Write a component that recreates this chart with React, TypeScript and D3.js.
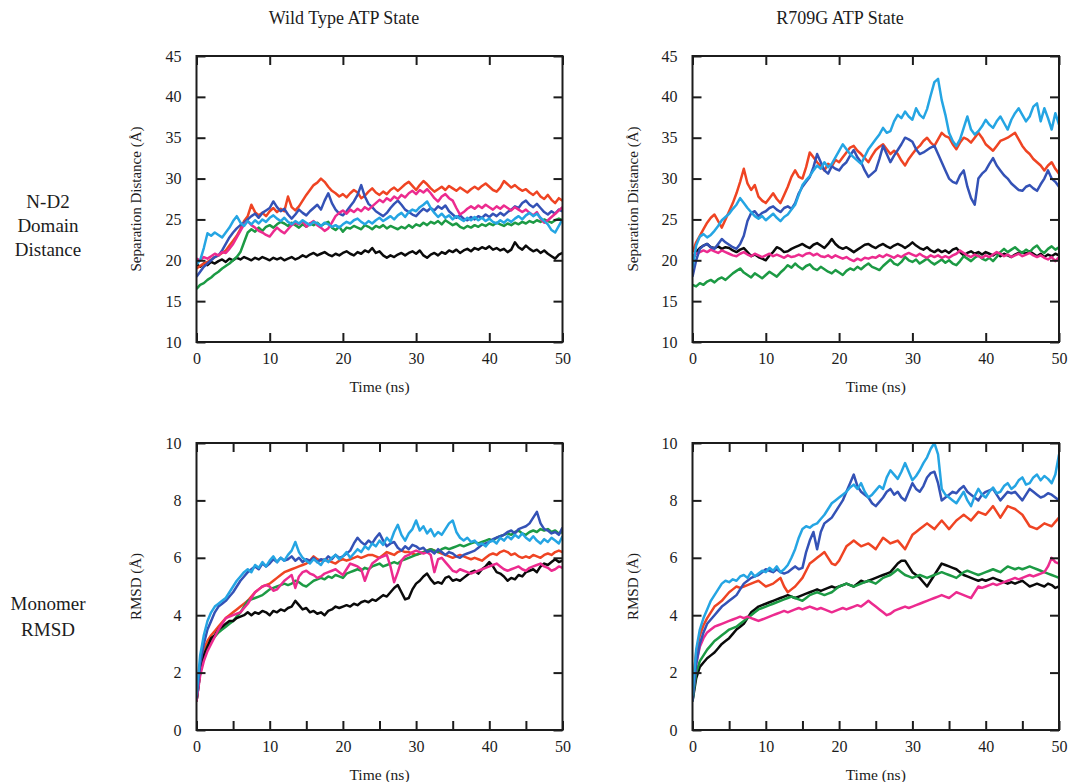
import React, { useEffect, useRef } from "react";
import * as d3 from "d3";

// sampling grid, every 0.5 ns from 0 to 50
const times = d3.range(0, 101).map((i) => i * 0.5);

// --- Wild type, N-D2 domain distance (Å)
const wtDistBlack = [
  19.5, 19.2, 19.6, 19.4, 19.8, 19.6, 19.9, 20.1, 19.8, 20.2,
  20.0, 20.3, 20.1, 20.4, 20.2, 20.0, 20.3, 20.1, 20.4, 20.2,
  20.0, 20.3, 20.1, 20.3, 20.0, 20.2, 20.4, 20.1, 20.3, 20.6,
  20.4, 20.7, 20.9, 20.6, 20.8, 21.0, 20.7, 20.5, 20.8, 20.6,
  20.9, 21.1, 20.8, 20.6, 21.0, 20.8, 21.2, 21.0, 21.5, 20.9,
  21.1, 20.6, 20.3, 20.6, 20.4, 20.7, 20.9, 20.6, 20.9, 21.1,
  20.8, 21.2, 20.6, 20.3, 20.7, 20.9, 20.6, 21.0, 20.8, 21.2,
  21.0, 21.3, 20.9, 21.2, 21.4, 21.1, 21.5, 21.3, 21.6, 21.4,
  21.7, 21.3, 21.5, 21.2, 21.4, 21.0, 21.3, 22.2, 21.6, 21.3,
  21.8, 21.4, 21.1, 21.3, 20.9, 21.2, 20.8, 20.5, 20.2, 20.7,
  20.9,
];
const wtDistRed = [
  19.0, 19.3, 19.6, 19.8, 20.1, 20.4, 20.6, 20.9, 21.2, 21.8,
  22.4, 23.0, 23.8, 24.8, 25.4, 26.8, 25.9, 25.5, 25.8, 25.4,
  26.0, 26.4, 25.9, 26.3, 26.0, 27.8, 26.5, 26.1, 26.6, 27.3,
  28.0, 28.6, 29.2, 29.5, 30.0, 29.6, 29.0, 28.5, 28.2, 27.8,
  28.1, 27.7, 28.2, 28.6, 28.3, 27.6, 27.9, 28.4, 28.8, 28.3,
  28.0, 28.4, 28.1, 28.6, 28.9, 28.5, 28.9, 29.3, 29.6, 29.1,
  28.6, 29.2, 29.7, 29.3, 28.8, 28.4, 28.7, 29.0, 28.6, 29.1,
  28.8, 28.5, 28.9, 28.6, 28.3, 28.7, 29.0, 28.7, 29.1, 29.4,
  29.0, 28.6, 28.4, 28.9, 29.7, 29.3, 28.9, 29.2, 28.8, 28.5,
  28.7, 28.3, 28.0, 28.4, 27.8, 27.5, 28.0, 27.4, 27.0, 27.6,
  27.3,
];
const wtDistGreen = [
  16.5, 17.0, 17.2, 17.6, 17.9, 18.3, 18.6, 19.0, 19.3, 19.6,
  20.0, 20.4, 21.0, 22.2, 23.4, 23.8, 23.5, 24.0, 23.6, 24.1,
  24.3, 24.0, 24.4, 24.7, 24.5, 24.2, 24.6, 24.3, 24.0, 24.4,
  24.1, 24.5, 24.3, 24.6, 24.2, 24.5, 24.7, 24.0, 23.7, 24.1,
  23.5, 24.0, 23.9, 24.2, 24.0, 23.8, 24.3, 24.1, 23.8, 24.2,
  24.0, 24.3, 23.9, 24.2, 24.0, 23.8, 24.1, 23.9, 24.3, 24.0,
  24.4, 24.2, 24.6, 24.3, 24.7, 24.5, 24.8, 24.4, 24.9, 24.6,
  24.3, 24.5, 24.1, 23.9, 24.2, 24.0, 24.3, 24.1, 24.4, 24.2,
  24.5, 24.3, 24.6, 24.4, 24.2, 24.5, 24.3, 24.6, 24.4, 24.7,
  24.5, 24.8, 24.6, 24.9, 24.7, 25.0, 24.8, 24.6, 24.9, 25.1,
  24.9,
];
const wtDistDarkBlue = [
  18.0, 18.6, 19.2, 19.6, 20.0, 20.4, 20.6, 21.2, 22.0, 22.8,
  23.4, 23.9, 24.3, 24.6, 25.0, 25.4, 25.7, 25.2, 25.8, 26.1,
  26.4, 27.2, 26.5, 26.0, 26.3, 25.6, 25.1, 25.6, 26.2, 25.8,
  25.5, 26.0, 26.4, 26.8, 26.2, 27.3, 28.2, 27.0, 26.2, 25.7,
  25.5, 26.0, 26.6, 27.2, 28.0, 29.2, 27.8, 26.9, 26.5, 26.0,
  25.7, 25.4, 25.8, 26.4, 26.9, 27.3, 26.8, 26.2, 25.9, 25.6,
  25.4, 25.9, 26.3, 26.0, 26.4, 26.1, 26.6, 26.3, 26.7, 26.0,
  25.6, 25.2, 25.5, 25.1, 24.9, 25.3, 25.0, 25.4, 25.2, 25.6,
  25.3, 25.7, 25.4, 25.8, 25.5, 25.9, 26.2, 26.6, 26.4, 27.0,
  27.3, 26.8, 26.5, 26.9, 26.4, 25.9, 25.6, 26.0, 25.7, 26.2,
  26.0,
];
const wtDistMagenta = [
  20.2, 20.0, 20.4, 20.2, 20.5, 20.8, 20.6, 21.0, 20.9, 21.4,
  22.0, 22.8, 23.6, 24.4, 24.8, 24.3, 24.0, 23.6, 23.4, 23.1,
  22.9, 23.5, 24.0, 23.6, 23.3, 23.8, 24.3, 24.6, 24.4, 24.8,
  24.1, 24.5, 24.8, 24.3, 24.0, 23.6, 23.9, 24.6, 25.4, 25.8,
  26.1, 25.7, 26.2, 25.9, 26.3, 26.0, 26.5, 26.2, 26.6, 27.0,
  27.4, 27.1, 27.6, 27.3, 27.8, 27.5, 28.0, 27.7, 28.2, 28.5,
  28.1, 28.6, 28.3, 28.7, 28.2, 27.6, 27.2, 27.8, 28.1, 27.6,
  27.3, 26.4, 25.6, 25.9, 26.3, 26.6, 26.3, 26.7, 26.4, 26.8,
  26.5, 26.2, 26.6, 26.3, 26.7, 26.4, 26.1, 26.5, 26.2, 25.9,
  26.2, 25.8, 25.5, 25.9, 25.1, 24.6, 24.9, 25.3, 25.7, 26.1,
  26.5,
];
const wtDistLightBlue = [
  19.5, 20.0, 21.5, 23.3, 23.0, 23.4, 23.1, 22.8, 23.4, 24.0,
  24.8, 25.4, 24.6, 24.2, 24.8, 24.4, 24.9, 24.5, 25.0, 24.7,
  25.2, 25.5, 25.1, 24.8, 25.2, 24.7, 24.4, 24.8, 24.5, 24.9,
  24.6, 24.3, 24.7, 24.5, 24.2, 24.6, 24.4, 24.1, 24.3, 24.0,
  24.4, 24.7, 24.5, 24.9, 25.1, 24.7, 24.4, 24.8, 24.5, 24.9,
  25.2, 24.8, 25.1, 25.4, 25.0, 25.5, 25.8, 25.3, 25.9, 26.2,
  26.0, 26.5, 26.8, 27.2, 26.4, 25.8, 25.3, 25.7, 25.2, 25.5,
  25.0, 25.4, 25.1, 24.8, 25.2, 24.9, 25.3, 24.9, 25.2, 24.8,
  25.1, 24.7, 24.5, 24.9, 24.6, 25.0, 24.7, 25.1, 25.4, 25.0,
  25.5, 25.8, 25.4, 25.7, 25.2, 24.8, 24.4, 23.7, 23.4, 24.2,
  25.0,
];

// --- R709G, N-D2 domain distance (Å)
const r7DistBlack = [
  20.0, 21.0, 21.5, 21.8, 22.0, 21.6, 21.5, 21.7, 21.4, 21.6,
  21.5, 21.2, 21.0, 21.3, 21.5, 21.0, 20.5, 20.7, 20.4, 20.2,
  20.0, 20.6, 21.0, 21.6, 21.4, 21.0, 21.1, 21.4, 21.6, 21.8,
  22.0, 21.7, 21.5, 21.9, 22.1, 21.8, 21.5, 22.0, 22.6, 22.0,
  21.6, 21.4, 21.6, 21.3, 21.0, 21.3, 21.6, 21.9, 22.0, 21.7,
  21.5, 21.8, 22.0, 21.7, 21.5, 21.8, 22.0, 21.8, 21.5, 21.8,
  22.2, 21.8, 21.5, 21.3, 21.6, 21.2, 21.0, 21.3, 21.0, 21.2,
  20.9, 21.3, 21.5, 21.0, 20.6, 20.9, 21.1, 20.8, 21.0, 20.7,
  21.0, 20.8, 20.6, 20.9, 20.5, 20.8, 20.6, 20.4, 20.7, 20.9,
  21.0, 20.8, 21.1, 20.8, 20.5, 20.8, 20.4, 20.7, 20.5, 20.8,
  20.6,
];
const r7DistRed = [
  21.0, 22.2, 23.0, 23.8, 24.6, 25.2, 25.6, 24.8, 24.0, 25.0,
  26.0, 27.0, 28.2, 29.6, 31.2, 29.4, 28.6, 29.2, 27.8, 27.3,
  27.0, 27.6, 28.2, 27.5, 27.0, 28.0, 29.0, 30.2, 31.0, 30.2,
  30.0, 31.4, 33.2, 32.6, 32.0, 31.5, 31.0, 31.8, 31.5, 32.3,
  32.0, 32.6, 33.2, 33.8, 34.0, 33.4, 33.0, 32.5, 32.0, 32.8,
  33.5, 33.9, 34.2, 33.6, 33.0, 33.4, 33.0, 32.2, 31.6, 32.4,
  33.0, 33.6, 34.0, 34.6, 35.0, 34.4, 34.0, 34.8, 35.6, 35.2,
  35.0, 34.2, 33.6, 34.4, 35.0, 34.8, 34.4, 35.0, 35.6, 35.0,
  34.2, 33.8, 33.4, 34.0, 34.6, 34.8, 35.0, 35.3, 35.6, 34.8,
  34.0, 33.4, 33.0, 32.4, 32.0, 31.6, 31.0, 31.6, 32.0, 31.2,
  30.6,
];
const r7DistGreen = [
  17.0, 16.8, 17.2, 17.0, 17.4, 17.6, 17.3, 17.7, 17.9, 17.6,
  18.0, 18.4, 18.7, 19.0, 18.5, 18.2, 17.9, 18.4, 18.1, 17.8,
  18.2, 18.6, 18.3, 18.0, 18.5, 18.9, 19.4, 19.1, 19.6, 19.2,
  18.9, 19.3, 19.5, 19.0, 18.8, 19.2, 18.9, 18.6, 18.4, 18.8,
  18.5, 18.2, 18.7, 19.0, 18.8, 19.2, 18.9, 19.3, 19.6, 19.2,
  19.0, 18.8, 19.3, 19.7, 20.1, 19.6, 19.4, 19.8, 20.4, 20.0,
  19.8, 20.1, 19.6, 19.9, 20.2, 19.8, 19.5, 19.8, 20.1, 19.7,
  20.0, 19.6, 19.4, 19.9, 20.5, 20.2, 19.9, 20.3, 20.6, 20.2,
  20.0, 20.3, 19.9, 20.4, 21.0, 21.4, 21.0, 21.3, 21.6, 21.2,
  20.9, 21.3, 21.0, 21.5, 21.8, 21.2, 20.9, 21.4, 21.7, 21.3,
  21.6,
];
const r7DistDarkBlue = [
  18.0, 20.0, 21.4, 21.8, 22.0, 21.6, 21.4, 22.0, 22.6, 22.2,
  21.9, 21.6, 21.4, 22.0, 23.0, 24.8, 25.8, 26.0, 25.4, 25.8,
  26.0, 26.4, 26.6, 26.2, 25.9, 26.4, 26.6, 26.3, 27.0, 28.2,
  29.0, 29.6, 30.2, 31.4, 33.0, 32.0, 31.0, 30.6, 31.5, 31.2,
  31.0, 31.6, 32.0, 32.8, 33.5, 32.6, 32.0, 31.0, 30.2, 30.6,
  31.0, 32.4, 34.0, 33.0, 32.0, 32.8, 33.5, 34.2, 35.0, 34.8,
  34.5, 33.6, 33.0, 33.2, 33.5, 33.8, 34.0, 33.0, 32.0, 31.0,
  30.0, 29.6, 29.4, 30.4, 31.0, 29.0, 27.6, 26.8, 30.0, 30.6,
  31.0, 31.8, 32.5, 31.6, 31.0, 30.4, 30.0, 29.4, 29.0, 28.6,
  28.5, 29.0, 29.2, 28.8, 28.5, 29.3, 30.0, 31.0, 30.0, 29.6,
  29.0,
];
const r7DistMagenta = [
  20.5, 20.8, 21.0, 21.2, 21.0, 21.3, 21.1, 20.9, 21.2, 21.0,
  20.8, 20.6, 20.5, 20.8, 21.0, 20.7, 20.5, 20.8, 20.6, 20.4,
  20.6, 20.8, 20.5, 20.7, 20.5, 20.3, 20.6, 20.4, 20.5, 20.7,
  20.5, 20.8, 20.9, 20.6, 20.8, 20.5, 20.4, 20.6, 20.3, 20.6,
  20.4, 20.2, 20.4, 20.1, 19.9, 20.2, 20.0, 20.3, 20.2, 20.4,
  20.3, 20.6, 20.4, 20.7, 20.5, 20.3, 20.6, 20.4, 20.7, 20.9,
  20.7, 20.5, 20.8, 20.5, 20.3, 20.6, 20.4, 20.6, 20.3, 20.5,
  20.3, 20.6, 20.8, 21.2, 20.9, 20.6, 20.4, 20.7, 20.5, 20.3,
  20.6, 20.4, 20.7, 21.0, 20.8, 20.5, 20.7, 20.4, 20.6, 20.8,
  20.5, 20.7, 20.9, 20.6, 20.4, 20.6, 20.3, 20.1, 20.4, 19.9,
  20.4,
];
const r7DistLightBlue = [
  19.0, 21.8, 22.9, 23.2, 22.8, 23.1, 23.6, 24.2, 24.9, 25.3,
  25.7, 26.3, 26.8, 27.6, 27.0, 26.4, 25.9, 25.4, 25.1, 25.4,
  24.9, 25.3, 25.7, 25.2, 24.8, 25.3, 25.6, 26.2, 26.8, 28.0,
  29.2, 29.8, 30.3, 31.0, 31.6, 31.2, 32.0, 31.4, 31.8, 32.6,
  33.4, 34.2, 33.6, 33.0, 32.6, 32.2, 31.8, 32.7, 33.6, 34.2,
  34.8, 35.4, 36.2, 35.6, 35.8, 37.0, 37.8, 37.4, 38.2, 37.6,
  37.2, 38.6, 37.8, 37.4, 38.5, 40.2, 41.8, 42.2, 39.6, 37.8,
  35.6, 34.6, 34.0, 34.8, 36.2, 37.6, 36.0, 35.4, 35.8, 36.4,
  37.2, 36.6, 36.2, 37.0, 37.6, 36.8, 36.0, 37.2, 38.0, 38.6,
  37.8, 37.0, 37.6, 38.8, 39.2, 37.0, 38.6, 37.4, 36.0, 38.0,
  36.6,
];

// --- Wild type, monomer RMSD (Å)
const wtRmsdBlack = [
  1.0, 2.0, 2.6, 2.9, 3.2, 3.3, 3.5, 3.6, 3.7, 3.8,
  3.8, 3.9, 3.95, 4.0, 4.1, 4.0, 4.1, 4.05, 4.15, 4.1,
  4.0, 4.15, 4.1, 4.2, 4.15, 4.25, 4.3, 4.5, 4.35, 4.2,
  4.25, 4.1, 4.15, 4.05, 4.1, 4.0, 4.15, 4.2, 4.3, 4.25,
  4.3, 4.35, 4.3, 4.4, 4.35, 4.45, 4.5, 4.45, 4.55, 4.5,
  4.6, 4.7, 4.65, 4.8, 4.95, 5.05, 4.8, 4.55, 4.6, 4.9,
  5.1, 5.2, 5.35, 5.45, 5.25, 5.1, 5.15, 5.1, 5.3, 5.35,
  5.2, 5.25, 5.2, 5.3, 5.4, 5.5, 5.55, 5.45, 5.6, 5.7,
  5.85, 5.7, 5.5, 5.45, 5.35, 5.2, 5.3, 5.25, 5.4, 5.35,
  5.5, 5.55, 5.6, 5.5, 5.7, 5.8, 5.75, 5.85, 5.95, 5.85,
  5.9,
];
const wtRmsdRed = [
  1.0, 2.2, 2.8, 3.1, 3.3, 3.45, 3.6, 3.75, 3.9, 4.0,
  4.1, 4.2, 4.3, 4.4, 4.5, 4.65, 4.8, 4.9, 5.0, 5.05,
  5.1, 5.2, 5.3, 5.4, 5.5, 5.55, 5.6, 5.65, 5.7, 5.75,
  5.8, 5.9, 6.05, 5.95, 5.9, 5.95, 5.9, 5.85, 5.8, 5.9,
  5.95, 5.9, 5.95, 6.0, 6.05, 6.0, 6.05, 6.1, 6.1, 6.05,
  6.0, 6.1, 6.2, 6.15, 6.1, 6.2, 6.25, 6.2, 6.2, 6.15,
  6.1, 6.15, 6.2, 6.25, 6.3, 6.25, 6.2, 6.15, 6.1, 6.05,
  6.0, 6.05, 6.1, 6.05, 6.0, 5.95, 6.0, 5.95, 5.9, 6.0,
  6.1, 6.15, 6.1, 6.2, 6.25, 6.2, 6.1, 6.15, 6.05, 6.0,
  6.05, 6.0, 6.1, 6.05, 6.0, 6.1, 6.15, 6.1, 6.2, 6.25,
  6.2,
];
const wtRmsdGreen = [
  1.0, 2.0, 2.6, 2.9, 3.1, 3.25, 3.4, 3.5, 3.6, 3.7,
  3.8, 3.95, 4.1, 4.3, 4.5, 4.55, 4.6, 4.65, 4.7, 4.8,
  4.9, 4.95, 5.0, 5.05, 5.1, 5.05, 5.1, 5.2, 5.15, 5.05,
  5.0, 5.1, 5.2, 5.25, 5.3, 5.25, 5.35, 5.3, 5.4, 5.35,
  5.3, 5.45, 5.5, 5.55, 5.6, 5.55, 5.65, 5.6, 5.7, 5.75,
  5.8, 5.7, 5.75, 5.8, 5.85, 5.8, 5.9, 5.95, 6.0, 6.05,
  6.1, 6.15, 6.2, 6.25, 6.3, 6.25, 6.2, 6.3, 6.35, 6.3,
  6.35, 6.4, 6.45, 6.4, 6.45, 6.5, 6.55, 6.5, 6.55, 6.6,
  6.65, 6.6, 6.7, 6.75, 6.8, 6.85, 6.8, 6.9, 6.95, 6.85,
  6.8, 6.9, 6.95, 6.9, 7.0, 6.95, 7.0, 6.9, 6.95, 6.85,
  6.9,
];
const wtRmsdDarkBlue = [
  1.1, 2.3, 3.0, 3.5, 3.8, 4.1, 4.3, 4.4, 4.5, 4.65,
  4.8, 5.0, 5.2, 5.35, 5.5, 5.6, 5.7, 5.6, 5.8, 5.7,
  5.8, 5.95, 5.85, 6.0, 5.9, 5.95, 6.05, 5.9, 6.0, 5.85,
  5.95, 5.9, 6.0, 5.85, 5.95, 5.9, 6.05, 5.95, 6.1, 6.0,
  6.05, 6.15, 6.25, 6.5, 6.7, 6.55, 6.45, 6.6, 6.5, 6.7,
  6.85, 6.6, 6.4, 6.5, 6.55, 6.35, 6.25, 6.4, 6.3, 6.45,
  6.4, 6.3, 6.35, 6.2, 6.25, 6.15, 6.3, 6.2, 6.1, 6.2,
  6.15, 6.05, 6.0, 6.1, 6.15, 6.2, 6.25, 6.35, 6.45, 6.5,
  6.55, 6.65, 6.7, 6.75, 6.8, 6.9, 6.95, 6.85, 7.0, 7.05,
  7.1, 7.2, 7.4, 7.6, 7.2, 7.0, 6.95, 6.85, 6.9, 6.8,
  7.05,
];
const wtRmsdMagenta = [
  1.0, 1.9, 2.4, 2.75, 3.0, 3.25, 3.5, 3.7, 3.9, 3.95,
  4.0, 4.05, 4.1, 4.25, 4.4, 4.6, 4.8, 4.9, 5.0, 5.05,
  5.0, 4.85, 4.9, 5.05, 5.2, 5.3, 5.4, 4.95, 5.35, 5.5,
  5.55, 5.45, 5.4, 5.3, 5.35, 5.45, 5.5, 5.55, 5.6, 5.5,
  5.4, 5.6, 5.8, 5.75, 5.7, 5.6, 5.2, 5.55, 5.8, 5.9,
  6.0, 6.05, 6.1, 5.7, 5.15, 5.5, 5.9, 6.05, 6.1, 6.2,
  6.25, 6.2, 6.15, 6.2, 6.1, 5.5, 5.95, 6.0, 5.85, 5.7,
  5.55, 5.5, 5.6, 5.55, 5.5, 5.45, 5.5, 5.55, 5.6, 5.65,
  5.7, 5.75, 5.8, 5.7, 5.6, 5.55, 5.6, 5.65, 5.7, 5.6,
  5.55, 5.65, 5.7, 5.75, 5.8, 5.7, 5.65, 5.55, 5.6, 5.7,
  5.65,
];
const wtRmsdLightBlue = [
  1.2, 2.6, 3.3, 3.8, 4.1, 4.3, 4.4, 4.5, 4.6, 4.8,
  5.0, 5.2, 5.35, 5.5, 5.6, 5.5, 5.75, 5.65, 5.85, 5.7,
  5.9, 6.05, 5.85, 6.0, 5.9, 6.1, 6.25, 6.55, 6.2, 6.0,
  5.9, 5.8, 5.95, 5.85, 5.75, 5.95, 5.85, 6.0, 6.1, 5.95,
  6.05, 6.2, 6.0, 6.15, 6.3, 6.2, 6.4, 6.3, 6.5, 6.4,
  6.6, 6.45, 6.7, 6.55, 6.9, 7.15, 6.8, 6.6, 6.85, 7.0,
  7.3, 6.95, 7.1, 6.85, 7.0, 6.75, 6.9, 6.8, 7.0, 7.2,
  7.3, 6.9, 6.7, 6.6, 6.7, 6.55, 6.6, 6.45, 6.5, 6.4,
  6.55, 6.6, 6.5, 6.7, 6.6, 6.75, 6.65, 6.8, 6.7, 6.85,
  6.7, 6.6, 6.75, 6.6, 6.5, 6.65, 6.55, 6.7, 6.6, 6.5,
  6.75,
];

// --- R709G, monomer RMSD (Å)
const r7RmsdBlack = [
  1.0, 1.8, 2.2, 2.35, 2.5, 2.6, 2.7, 2.85, 3.0, 3.1,
  3.2, 3.35, 3.5, 3.6, 3.7, 3.9, 4.1, 4.2, 4.3, 4.35,
  4.4, 4.45, 4.5, 4.55, 4.6, 4.65, 4.7, 4.65, 4.6, 4.65,
  4.7, 4.75, 4.8, 4.85, 4.9, 4.85, 4.9, 4.95, 5.0, 4.95,
  5.0, 5.05, 5.1, 5.05, 5.0, 5.1, 5.2, 5.15, 5.2, 5.25,
  5.3, 5.35, 5.4, 5.45, 5.5, 5.65, 5.8, 5.9, 5.9, 5.7,
  5.5, 5.4, 5.3, 5.15, 5.0, 5.2, 5.4, 5.6, 5.8, 5.75,
  5.7, 5.65, 5.6, 5.5, 5.4, 5.35, 5.3, 5.25, 5.2, 5.25,
  5.2, 5.25, 5.3, 5.25, 5.2, 5.15, 5.1, 5.15, 5.1, 5.15,
  5.2, 5.1, 5.0, 5.05, 5.1, 5.05, 5.0, 5.1, 5.05, 4.95,
  5.0,
];
const r7RmsdRed = [
  1.5, 2.7, 3.3, 3.65, 3.9, 4.1, 4.3, 4.4, 4.5, 4.65,
  4.8, 4.9, 5.0, 4.95, 5.0, 5.05, 5.1, 5.15, 5.2, 5.1,
  5.0, 5.05, 5.1, 5.2, 5.3, 5.0, 4.8, 4.9, 5.0, 5.15,
  5.3, 5.55, 5.8, 5.9, 6.0, 6.1, 6.2, 6.0, 5.8, 5.75,
  5.9, 6.15, 6.4, 6.5, 6.6, 6.5, 6.4, 6.45, 6.5, 6.4,
  6.3, 6.5, 6.7, 6.6, 6.5, 6.55, 6.6, 6.45, 6.3, 6.55,
  6.8, 6.9, 7.0, 7.1, 7.2, 7.1, 7.0, 7.15, 7.3, 7.15,
  7.0, 7.15, 7.3, 7.4, 7.5, 7.4, 7.3, 7.45, 7.6, 7.55,
  7.5, 7.65, 7.8, 7.6, 7.4, 7.6, 7.8, 7.75, 7.7, 7.6,
  7.5, 7.3, 7.1, 7.05, 7.0, 7.1, 7.2, 7.15, 7.1, 7.25,
  7.4,
];
const r7RmsdGreen = [
  1.0, 2.0, 2.4, 2.6, 2.8, 2.95, 3.1, 3.2, 3.3, 3.4,
  3.5, 3.55, 3.6, 3.7, 3.8, 3.9, 4.0, 4.1, 4.2, 4.25,
  4.3, 4.35, 4.4, 4.45, 4.5, 4.55, 4.6, 4.65, 4.6, 4.55,
  4.5, 4.6, 4.7, 4.75, 4.8, 4.75, 4.7, 4.75, 4.8, 4.9,
  5.0, 5.05, 5.1, 5.05, 5.0, 5.05, 5.1, 5.15, 5.2, 5.15,
  5.1, 5.2, 5.3, 5.35, 5.4, 5.5, 5.6, 5.5, 5.4, 5.35,
  5.3, 5.35, 5.4, 5.35, 5.3, 5.35, 5.4, 5.45, 5.5, 5.45,
  5.4, 5.35, 5.3, 5.4, 5.5, 5.55, 5.5, 5.45, 5.4, 5.45,
  5.5, 5.55, 5.6, 5.55, 5.5, 5.6, 5.7, 5.65, 5.6, 5.65,
  5.6, 5.65, 5.7, 5.65, 5.6, 5.55, 5.5, 5.45, 5.4, 5.35,
  5.3,
];
const r7RmsdDarkBlue = [
  1.0, 2.3, 3.0, 3.4, 3.7, 3.85, 4.0, 4.15, 4.3, 4.4,
  4.5, 4.6, 4.7, 4.9, 5.1, 5.2, 5.3, 5.35, 5.4, 5.5,
  5.6, 5.55, 5.5, 5.6, 5.5, 5.45, 5.5, 5.6, 5.7, 5.6,
  5.65, 6.2, 6.6, 6.9, 6.3, 6.9, 7.2, 7.3, 7.4, 7.6,
  7.8, 8.0, 8.3, 8.6, 8.9, 8.5, 8.3, 8.2, 8.1, 7.9,
  7.8, 7.95, 8.1, 8.3, 8.4, 8.2, 8.3, 8.1, 8.0, 8.3,
  8.6, 8.4, 8.3, 8.5, 8.8, 8.95, 9.0, 8.6, 8.0, 8.1,
  8.2, 8.3, 8.25, 8.4, 8.5, 8.3, 8.2, 8.1, 8.0, 8.2,
  8.3, 8.35, 8.4, 8.2, 8.0, 8.15, 8.3, 8.25, 8.3, 8.15,
  8.0, 8.2, 8.4, 8.3, 8.2, 8.1, 8.15, 8.25, 8.2, 8.1,
  8.0,
];
const r7RmsdMagenta = [
  1.2, 2.3, 2.9, 3.2, 3.4, 3.5, 3.6, 3.65, 3.7, 3.75,
  3.8, 3.85, 3.9, 3.95, 3.9, 3.95, 3.9, 3.85, 3.8, 3.85,
  3.9, 3.95, 4.0, 4.05, 4.1, 4.15, 4.1, 4.15, 4.2, 4.25,
  4.2, 4.25, 4.3, 4.25, 4.2, 4.25, 4.2, 4.15, 4.1, 4.15,
  4.2, 4.25, 4.2, 4.25, 4.3, 4.35, 4.3, 4.4, 4.5, 4.4,
  4.3, 4.2, 4.1, 4.0, 4.05, 4.15, 4.2, 4.25, 4.3, 4.25,
  4.3, 4.35, 4.4, 4.45, 4.5, 4.55, 4.6, 4.65, 4.7, 4.65,
  4.6, 4.7, 4.8, 4.75, 4.7, 4.65, 4.6, 4.8, 5.0, 4.95,
  5.0, 5.05, 5.1, 5.05, 5.1, 5.15, 5.2, 5.25, 5.3, 5.25,
  5.3, 5.35, 5.4, 5.35, 5.4, 5.45, 5.5, 5.7, 6.0, 5.85,
  5.8,
];
const r7RmsdLightBlue = [
  1.2, 2.8, 3.5, 3.9, 4.2, 4.5, 4.7, 4.9, 5.1, 5.2,
  5.15, 5.25, 5.2, 5.35, 5.4, 5.3, 5.5, 5.35, 5.45, 5.55,
  5.5, 5.65, 5.55, 5.7, 5.5, 5.6, 5.75, 6.0, 6.3, 6.7,
  7.0, 7.1, 7.05, 7.15, 7.2, 7.35, 7.5, 7.7, 7.9, 8.0,
  8.1, 8.2, 8.3, 8.45, 8.55, 8.4, 8.6, 8.3, 8.1, 8.2,
  8.35, 8.5, 8.4, 8.8, 9.05, 8.9, 8.75, 9.0, 9.3, 9.0,
  8.7, 8.85, 9.05, 9.3, 9.5, 9.8, 10.0, 9.6, 8.4, 8.2,
  8.1, 8.0, 7.9, 8.1, 8.3, 8.0, 7.8, 8.15, 8.4, 8.2,
  8.1, 8.3, 8.45, 8.25, 8.3, 8.5, 8.6, 8.4, 8.5, 8.7,
  8.8, 8.55, 8.6, 8.8, 8.9, 8.7, 8.85, 8.75, 8.6, 8.9,
  9.6,
];

const timeTicks = [0, 10, 20, 30, 40, 50];
const timeTicksFine = [0, 5, 10, 15, 20, 25, 30, 35, 40, 45, 50];
const distTicks = [10, 15, 20, 25, 30, 35, 40, 45];
const rmsdTicks = [0, 2, 4, 6, 8, 10];

const colors = {
  black: "#0a0a0a",
  red: "#ef4423",
  green: "#1c9a44",
  darkBlue: "#3452b6",
  magenta: "#ec2b8f",
  lightBlue: "#25a5e3",
};

const font = "'Liberation Serif', 'Times New Roman', serif";
const ink = "#1c1c1c";

const panels = [
  {
    left: 196.5, right: 562.5, top: 56, bottom: 342,
    yDomain: [10, 45], yTicks: distTicks, xTicks: timeTicks,
    yTitle: "Separation Distance (Å)", yTitleX: 141,
    lines: [
      [wtDistBlack, colors.black], [wtDistRed, colors.red], [wtDistGreen, colors.green],
      [wtDistDarkBlue, colors.darkBlue], [wtDistMagenta, colors.magenta], [wtDistLightBlue, colors.lightBlue],
    ],
  },
  {
    left: 692.5, right: 1059, top: 56, bottom: 342,
    yDomain: [10, 45], yTicks: distTicks, xTicks: timeTicks,
    yTitle: "Separation Distance (Å)", yTitleX: 638,
    lines: [
      [r7DistBlack, colors.black], [r7DistGreen, colors.green], [r7DistMagenta, colors.magenta],
      [r7DistRed, colors.red], [r7DistDarkBlue, colors.darkBlue], [r7DistLightBlue, colors.lightBlue],
    ],
  },
  {
    left: 196.5, right: 562.5, top: 443, bottom: 730,
    yDomain: [0, 10], yTicks: rmsdTicks, xTicks: timeTicksFine,
    yTitle: "RMSD (Å)", yTitleX: 141,
    lines: [
      [wtRmsdRed, colors.red], [wtRmsdGreen, colors.green], [wtRmsdBlack, colors.black],
      [wtRmsdMagenta, colors.magenta], [wtRmsdDarkBlue, colors.darkBlue], [wtRmsdLightBlue, colors.lightBlue],
    ],
  },
  {
    left: 692.5, right: 1059, top: 443, bottom: 730,
    yDomain: [0, 10], yTicks: rmsdTicks, xTicks: timeTicksFine,
    yTitle: "RMSD (Å)", yTitleX: 638,
    lines: [
      [r7RmsdRed, colors.red], [r7RmsdBlack, colors.black], [r7RmsdGreen, colors.green],
      [r7RmsdMagenta, colors.magenta], [r7RmsdDarkBlue, colors.darkBlue], [r7RmsdLightBlue, colors.lightBlue],
    ],
  },
];

export default function App() {
  const ref = useRef<SVGSVGElement>(null);

  useEffect(() => {
    const svg = d3.select(ref.current);
    svg.selectAll("*").remove();

    panels.forEach((p, pi) => {
      const x = d3.scaleLinear().domain([0, 50]).range([p.left, p.right]);
      const y = d3.scaleLinear().domain(p.yDomain).range([p.bottom, p.top]);
      const g = svg.append("g");

      const clipId = "clip" + pi;
      g.append("clipPath").attr("id", clipId)
        .append("rect")
        .attr("x", p.left).attr("y", p.top)
        .attr("width", p.right - p.left).attr("height", p.bottom - p.top);

      const line = d3.line<number>()
        .x((d, i) => x(times[i]))
        .y((d) => y(d));

      g.append("g").attr("clip-path", `url(#${clipId})`)
        .selectAll("path")
        .data(p.lines)
        .join("path")
        .attr("d", (d: any) => line(d[0]))
        .attr("fill", "none")
        .attr("stroke", (d: any) => d[1])
        .attr("stroke-width", 2.5)
        .attr("stroke-linejoin", "round");

      const styleAxis = (sel: any) => {
        sel.select(".domain").remove();
        sel.attr("font-family", font).attr("font-size", 16);
        sel.selectAll(".tick line").attr("stroke", ink).attr("stroke-width", 2);
        sel.selectAll(".tick text").attr("fill", ink);
      };

      // labels only on the multiples of ten
      const xLabel = (d: any) => (d % 10 === 0 ? String(d) : "");

      g.append("g").attr("transform", `translate(0,${p.bottom})`)
        .call(d3.axisBottom(x).tickValues(p.xTicks).tickSize(-9).tickPadding(11).tickFormat(xLabel))
        .call(styleAxis);
      g.append("g").attr("transform", `translate(0,${p.top})`)
        .call(d3.axisTop(x).tickValues(p.xTicks).tickSize(-9).tickFormat(() => ""))
        .call(styleAxis);
      g.append("g").attr("transform", `translate(${p.left},0)`)
        .call(d3.axisLeft(y).tickValues(p.yTicks).tickSize(-9).tickPadding(15).tickFormat(d3.format("d")))
        .call(styleAxis);
      g.append("g").attr("transform", `translate(${p.right},0)`)
        .call(d3.axisRight(y).tickValues(p.yTicks).tickSize(-9).tickFormat(() => ""))
        .call(styleAxis);

      g.append("rect")
        .attr("x", p.left).attr("y", p.top)
        .attr("width", p.right - p.left).attr("height", p.bottom - p.top)
        .attr("fill", "none").attr("stroke", ink).attr("stroke-width", 2);

      g.append("text")
        .attr("x", (p.left + p.right) / 2).attr("y", p.bottom + 50)
        .attr("text-anchor", "middle").attr("font-family", font).attr("font-size", 15.5).attr("fill", ink)
        .text("Time (ns)");

      g.append("text")
        .attr("transform", `translate(${p.yTitleX},${(p.top + p.bottom) / 2}) rotate(-90)`)
        .attr("text-anchor", "middle").attr("font-family", font).attr("font-size", 15).attr("fill", ink)
        .text(p.yTitle);
    });

    const heads = [
      { text: "Wild Type ATP State", x: 344 },
      { text: "R709G ATP State", x: 840 },
    ];
    svg.selectAll(".head").data(heads).join("text")
      .attr("class", "head")
      .attr("x", (d) => d.x).attr("y", 24)
      .attr("text-anchor", "middle").attr("font-family", font).attr("font-size", 18).attr("fill", ink)
      .text((d) => d.text);

    const rows = [
      { text: "N-D2", y: 208 }, { text: "Domain", y: 232 }, { text: "Distance", y: 256 },
      { text: "Monomer", y: 610 }, { text: "RMSD", y: 636 },
    ];
    svg.selectAll(".row").data(rows).join("text")
      .attr("class", "row")
      .attr("x", 48).attr("y", (d) => d.y)
      .attr("text-anchor", "middle").attr("font-family", font).attr("font-size", 19).attr("fill", ink)
      .text((d) => d.text);
  }, []);

  return (
    <svg ref={ref} width={1068} height={782}
      style={{ position: "absolute", left: 0, top: 0, background: "#fff" }} />
  );
}
